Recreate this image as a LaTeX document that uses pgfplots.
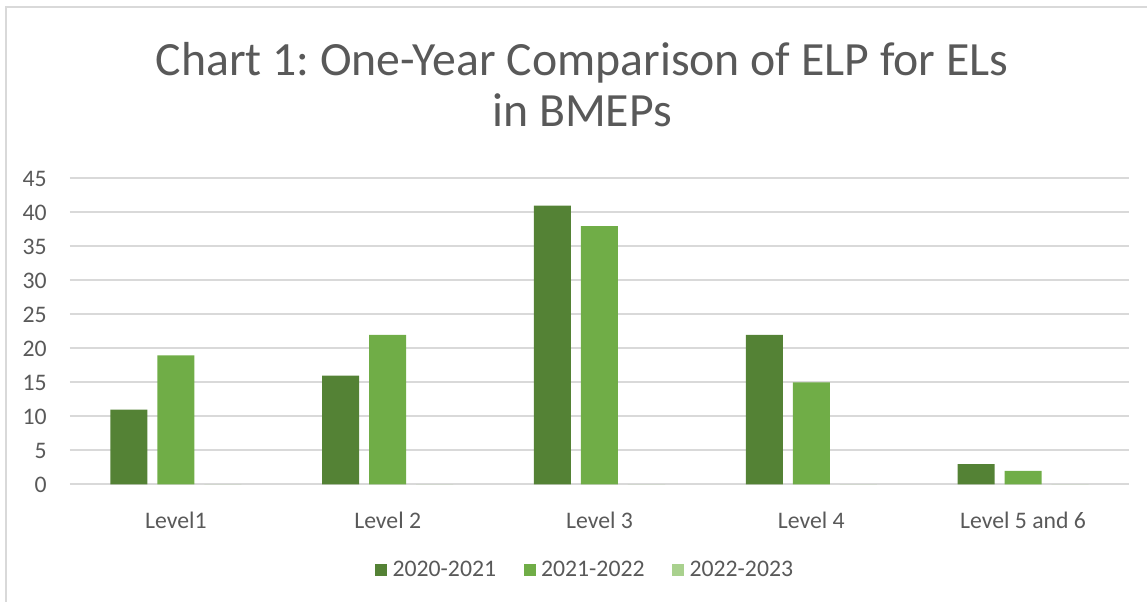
\documentclass[border=0pt]{standalone}
\usepackage{fontspec}
\setmainfont{Carlito}
\frenchspacing
\usepackage{pgfplots}
\pgfplotsset{compat=1.18}
\definecolor{txt}{HTML}{595959}
\definecolor{gridc}{HTML}{D9D9D9}
\definecolor{gA}{HTML}{548235}
\definecolor{gB}{HTML}{70AD47}
\definecolor{gC}{HTML}{A9D18E}
\begin{document}
\begin{tikzpicture}
\path[use as bounding box] (0,0) rectangle (860.25pt,451.5pt);
\draw[gridc, line width=1.5pt] (4.5pt,0) -- (4.5pt,446.25pt) -- (860.25pt,446.25pt);
\begin{axis}[
  at={(52.5pt,88.125pt)}, anchor=south west,
  scale only axis,
  width=794.25pt, height=229.5pt,
  ybar=7.5pt, bar width=27.75pt,
  xmin=-0.5, xmax=4.5, ymin=0, ymax=45,
  xtick={0,1,2,3,4},
  xticklabels={Level1,Level 2,Level 3,Level 4,Level 5 and 6},
  ytick={0,5,...,45},
  ymajorgrids, major grid style={gridc, line width=1.5pt},
  axis line style={draw=none}, tick style={draw=none},
  /pgf/number format/assume math mode=true,
  tick label style={font=\fontsize{17.8}{20}\selectfont, text=txt},
  xticklabel style={anchor=base, yshift=-28.9pt},
  yticklabel style={anchor=east, inner xsep=0pt, xshift=-17.25pt},
  title={Chart 1: One-Year Comparison of ELP for ELs\\in BMEPs},
  title style={at={(0.4835,1.145)}, anchor=base, align=center, text=txt,
    font=\fontsize{35.8}{38.25}\selectfont},
  legend columns=3,
  legend style={at={(0.288,-0.2794)}, anchor=west, draw=none, inner sep=0pt,
    font=\fontsize{17.8}{20}\selectfont, text=txt},
  legend image code/.code={\fill[#1] (0pt,-4.5pt) rectangle (9pt,4.5pt);},
]
\addplot[fill=gA, draw=none] coordinates {(0,11) (1,16) (2,41) (3,22) (4,3)};
\addplot[fill=gB, draw=none] coordinates {(0,19) (1,22) (2,38) (3,15) (4,2)};
\addplot[fill=gC, draw=none] coordinates {(0,0) (1,0) (2,0) (3,0) (4,0)};
\legend{\kern2pt 2020-2021\kern18.75pt,\kern2pt 2021-2022\kern18.75pt,\kern2pt 2022-2023}
\end{axis}
\end{tikzpicture}
\end{document}
